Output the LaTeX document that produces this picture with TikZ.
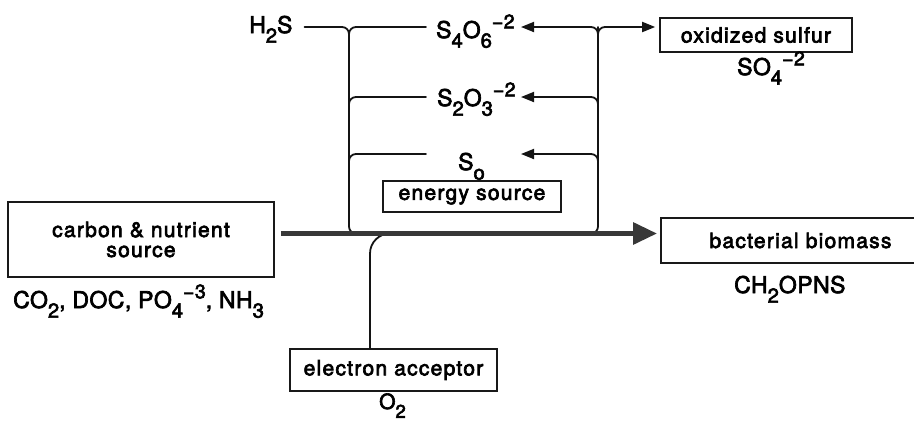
\documentclass[tikz,border=0pt]{standalone}
\usepackage{fontspec}
\usepackage{graphicx}
\setmainfont{TeX Gyre Heros}[LetterSpace=6,FakeBold=3.2]
\newfontfamily\chemfont{TeX Gyre Heros}[LetterSpace=2,FakeBold=3]
\usetikzlibrary{arrows.meta,calc}
\newcommand\dn[1]{\raisebox{-0.42em}{\scalebox{0.88}{#1}}}
\newcommand\up[1]{\raisebox{0.42em}{\scalebox{0.85}{#1}}}
\begin{document}
\begin{tikzpicture}[x=1pt,y={(0pt,-1pt)},
  box/.style={draw=black!90,line width=1.6pt,inner sep=0pt,font=\fontsize{21}{21}\selectfont,align=center},
  chem/.style={inner sep=0pt,anchor=base west,font=\chemfont\fontsize{23}{23}\selectfont},
  ln/.style={draw=black!92,line width=1.8pt,rounded corners=7pt,line cap=round},
  tip/.style={-{Triangle[length=13pt,width=10pt]}},
  bigarrow/.style={draw=black!78,line width=5.5pt,-{Triangle[length=24pt,width=21pt]}}]
\useasboundingbox (0,0) rectangle (914,421);
% boxes
\node[box,minimum width=266pt,minimum height=75pt] (carbon) at (141,239.5) {carbon \& nutrient\\[-1pt]source};
\node[box,minimum width=178pt,minimum height=31pt] (energy) at (472,196.5) {energy source};
\node[box,minimum width=192pt,minimum height=34pt] (oxs) at (756,35) {oxidized sulfur};
\node[box,minimum width=279pt,minimum height=45pt] (biomass) at (800.5,240.5) {bacterial biomass};
\node[box,minimum width=207pt,minimum height=42pt] (acceptor) at (393.5,370) {electron acceptor};
% formulas
\node[chem] (h2s) at (249,33) {H\dn{2}S};
\node[chem] (s4o6) at (436,38) {S\dn{4}O\dn{6}\up{−2}};
\node[chem] (s2o3) at (437,106) {S\dn{2}O\dn{3}\up{−2}};
\node[chem] (so) at (458,170) {S\dn{o}};
\node[chem] (so4) at (737,75) {SO\dn{4}\up{−2}};
\node[chem] (ch2o) at (734,293) {CH\dn{2}OPNS};
\node[chem] (co2) at (13,308) {CO\dn{2}, DOC, PO\dn{4}\up{−3}, NH\dn{3}};
\node[chem,font=\chemfont\fontsize{21}{21}\selectfont] (o2) at (379,409) {O\dn{2}};
% reference coordinates
\coordinate (L) at (349,0);
\coordinate (R) at (598,0);
\coordinate (tipx) at (521,0);
\coordinate (startx) at (426,0);
\coordinate (ax) at (370,0);
\coordinate (y1) at (0,27);
\coordinate (y2) at (0,97);
\coordinate (y3) at (0,154);
\coordinate (yb) at (0,233.5);
% left collector
\draw[ln] ($(h2s.east |- y1)+(12,0)$) -- (L |- y1) -- (L |- yb) -- ($(L |- yb)+(24,0)$);
\draw[ln] ($(L |- y1)+(0,14)$) -- (L |- y1) -- (startx |- y1);
\draw[ln] ($(L |- y2)+(0,14)$) -- (L |- y2) -- (startx |- y2);
\draw[ln] ($(L |- y3)+(0,14)$) -- (L |- y3) -- (startx |- y3);
% right collector
\draw[ln] (R |- y1) -- (R |- yb) -- ($(R |- yb)+(-24,0)$);
\draw[ln,tip] ($(R |- y1)+(0,14)$) -- (R |- y1) -- (tipx |- y1);
\draw[ln,tip] ($(R |- y1)+(0,14)$) -- (R |- y1) -- ($(oxs.west |- y1)+(-4,0)$);
\draw[ln,tip] ($(R |- y2)+(0,14)$) -- (R |- y2) -- (tipx |- y2);
\draw[ln,tip] ($(R |- y3)+(0,14)$) -- (R |- y3) -- (tipx |- y3);
% electron acceptor
\draw[ln,rounded corners=20pt] (acceptor.north -| ax) -- (ax |- yb) -- ($(ax |- yb)+(26,0)$);
% main flow
\draw[bigarrow] ($(carbon.east |- yb)+(6,0)$) -- ($(biomass.west |- yb)+(-3,0)$);
\end{tikzpicture}
\end{document}
